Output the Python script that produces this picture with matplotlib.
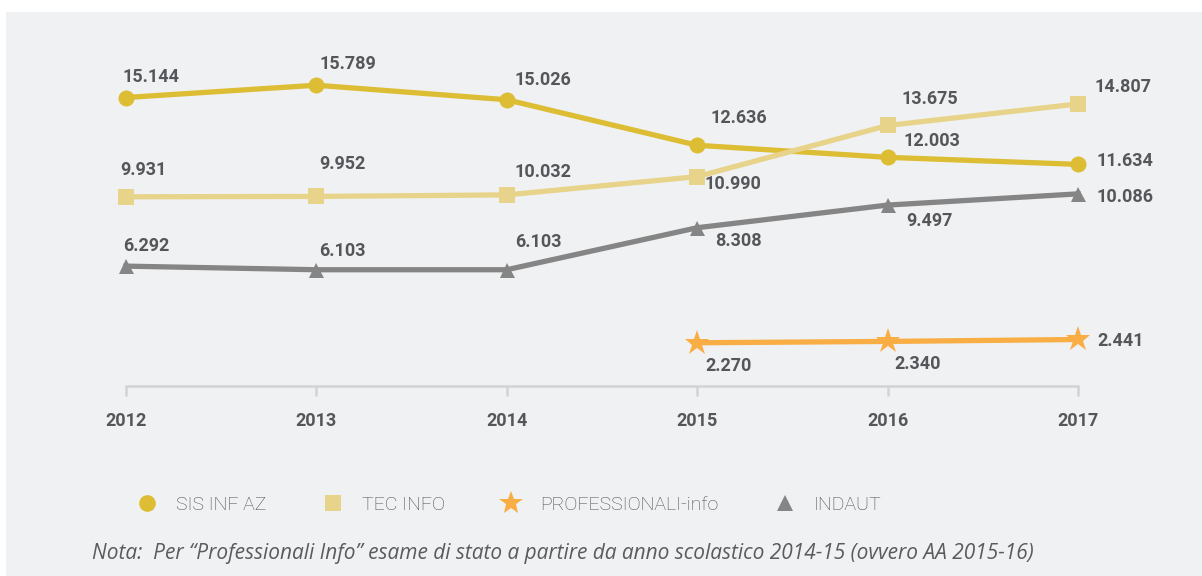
import numpy as np
import matplotlib.pyplot as plt
from matplotlib.lines import Line2D
from matplotlib.patches import Rectangle

# data
years = [2012, 2013, 2014, 2015, 2016, 2017]
sis_inf_az = [15.144, 15.789, 15.026, 12.636, 12.003, 11.634]
tec_info = [9.931, 9.952, 10.032, 10.990, 13.675, 14.807]
indaut = [6.292, 6.103, 6.103, 8.308, 9.497, 10.086]
prof_years = [2015, 2016, 2017]
prof_info = [2.270, 2.340, 2.441]

names = ["SIS INF AZ", "TEC INFO", "PROFESSIONALI-info", "INDAUT"]
note = "Nota:  Per \u201cProfessionali Info\u201d esame di stato a partire da anno scolastico 2014-15 (ovvero AA 2015-16)"

# label offsets in pixels (dx, dy), relative to each marker
sis_off = [(-3, 21), (3, 21), (8, 20), (13, 27), (16, 16), (19, 3)]
tec_off = [(-6, 27), (3, 32), (8, 23), (7, -7), (14, 26), (17, 17)]
ind_off = [(-3, 20), (3, 19), (8, 28), (18, -13), (19, -16), (19, -3)]
prof_off = [(8, -23), (7, -23), (19, -2)]

c_sis = "#dcbd33"
c_tec = "#e8d38a"
c_prof = "#f9ad45"
c_ind = "#858585"
txt = "#555659"
bg = "#f0f1f3"

W, H = 1202, 576
fig = plt.figure(figsize=(W / 100, H / 100), dpi=100)
fig.patch.set_facecolor("white")
fig.add_artist(Rectangle((6 / W, 0), 1, 1 - 12 / H, transform=fig.transFigure,
                         facecolor=bg, edgecolor="none", zorder=-10))

x0, x1 = 126, 1078
ybase, ytop = 386, 81.2
ax = fig.add_axes([x0 / W, (H - ybase) / H, (x1 - x0) / W, (ybase - ytop) / H])
ax.set_facecolor("none")
ax.set_xlim(2012, 2017)
ax.set_ylim(0, 16)

series = [
    (years, sis_inf_az, c_sis, "o", 16, sis_off),
    (years, tec_info, c_tec, "s", 16, tec_off),
    (prof_years, prof_info, c_prof, "*", 26, prof_off),
    (years, indaut, c_ind, "^", 15, ind_off),
]

for xs, ys, col, mk, ms, offs in series:
    ax.plot(xs, ys, color=col, lw=3.8, marker=mk, markersize=ms * 0.72,
            markeredgewidth=0, clip_on=False, zorder=3)
    for x, y, (dx, dy) in zip(xs, ys, offs):
        ax.annotate(f"{y:.3f}", (x, y), xytext=(dx * 0.72, dy * 0.72),
                    textcoords="offset points", ha="left", va="center",
                    fontsize=13, fontweight="bold", family="Roboto", color=txt,
                    zorder=4)

for s in ["top", "right", "left"]:
    ax.spines[s].set_visible(False)
ax.spines["bottom"].set_color("#d2d3d5")
ax.spines["bottom"].set_linewidth(1.8)
ax.spines["bottom"].set_bounds(2012, 2017)
ax.set_yticks([])
ax.set_xticks(years)
ax.set_xticklabels([str(y) for y in years], fontsize=13, fontweight="bold",
                   family="Roboto", color=txt)
ax.tick_params(axis="x", length=7, width=1.8, color="#d2d3d5", pad=12)

handles = [
    Line2D([], [], color=c_sis, marker="o", ls="none", markersize=12, markeredgewidth=0),
    Line2D([], [], color=c_tec, marker="s", ls="none", markersize=12, markeredgewidth=0),
    Line2D([], [], color=c_prof, marker="*", ls="none", markersize=18, markeredgewidth=0),
    Line2D([], [], color=c_ind, marker="^", ls="none", markersize=12, markeredgewidth=0),
]
leg = fig.legend(handles, names, loc="center left", bbox_to_anchor=(120 / W, 1 - 505 / H),
                 ncol=4, frameon=False, handlelength=1.0, handletextpad=1.0,
                 columnspacing=2.9, prop={"family": "Roboto", "weight": "light", "size": 14})
for t in leg.get_texts():
    t.set_color("#4a4b4e")

fig.text(92 / W, 1 - 553 / H, note, ha="left", va="center", fontsize=15,
         style="italic", family="Open Sans", color="#5a5b5e")

fig.savefig("out.png", dpi=100, facecolor=fig.get_facecolor())
